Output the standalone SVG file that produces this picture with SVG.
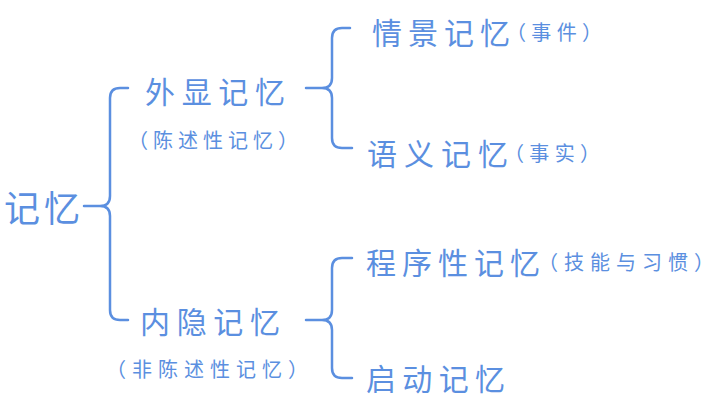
<svg xmlns="http://www.w3.org/2000/svg" width="722" height="402" viewBox="0 0 722 402">
<style>
text{font-family:"Noto Sans CJK SC","Noto Sans",sans-serif;fill:#5b8fe0;font-weight:400}
.b{font-size:30px}
.s{font-size:20px}
.c{fill:none;stroke:#5b8fe0;stroke-width:2.5;stroke-linecap:round;stroke-linejoin:round}
</style>
<rect width="722" height="402" fill="#fff"/>
<g id="connectors" class="c">
<path d="M84 206 H100 Q110 206 110 196 V98 Q110 88 120 88 H128 M100 206 Q110 206 110 216 V310 Q110 320 120 320 H128"/>
<path d="M306 88 H322 Q332 88 332 78 V38 Q332 28 342 28 H350 M322 88 Q332 88 332 98 V138 Q332 148 342 148 H352"/>
<path d="M306 320 H322 Q332 320 332 310 V268 Q332 258 342 258 H352 M322 320 Q332 320 332 330 V368 Q332 378 342 378 H352"/>
</g>
<g id="root"><text x="4" y="222" style="font-size:36px" textLength="76">记忆</text></g>
<g id="explicit"><text class="b" x="145" y="103" textLength="140">外显记忆</text>
<text class="s" x="128" y="148" textLength="170">（陈述性记忆）</text></g>
<g id="implicit"><text class="b" x="140" y="333" textLength="140">内隐记忆</text>
<text class="s" x="106" y="377" textLength="202">（非陈述性记忆）</text></g>
<g id="episodic"><text class="b" x="372" y="44" textLength="138">情景记忆</text><text class="s" x="506" y="40" textLength="96">（事件）</text></g>
<g id="semantic"><text class="b" x="367" y="165" textLength="141">语义记忆</text><text class="s" x="504" y="161" textLength="96">（事实）</text></g>
<g id="procedural"><text class="b" x="366" y="274" textLength="174">程序性记忆</text><text class="s" x="538" y="270" textLength="176">（技能与习惯）</text></g>
<g id="priming"><text class="b" x="366" y="390" textLength="139">启动记忆</text></g>
</svg>
